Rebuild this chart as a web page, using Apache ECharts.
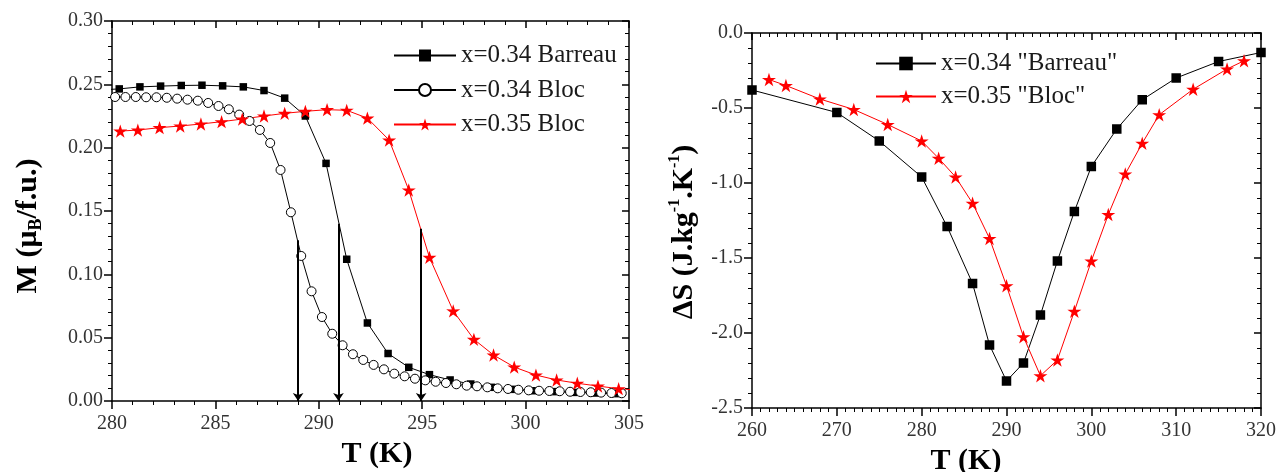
<!DOCTYPE html>
<html>
<head>
<meta charset="utf-8">
<script src="https://cdn.jsdelivr.net/npm/echarts@6/dist/echarts.min.js"></script>
<style>html,body{margin:0;padding:0;background:#fff}#c{width:1279px;height:472px}</style>
</head>
<body>
<div id="c"></div>
<script>
// ---- Left panel: magnetization M (muB/f.u.) vs T (K)
const leftBarreauT = [279.35, 280.35, 281.35, 282.35, 283.35, 284.35, 285.35, 286.35, 287.35, 288.35, 289.35, 290.35, 291.35, 292.35, 293.35, 294.35, 295.35, 296.35, 297.35, 298.35, 299.35, 300.35, 301.35, 302.35, 303.35, 304.35];
const leftBarreauM = [0.2455, 0.2464, 0.2480, 0.2486, 0.2491, 0.2493, 0.2488, 0.2480, 0.2451, 0.2391, 0.2250, 0.1876, 0.1119, 0.0616, 0.0375, 0.0266, 0.0208, 0.0166, 0.0134, 0.0108, 0.0092, 0.0081, 0.0074, 0.0068, 0.0063, 0.0058];

const leftBloc34T = [280.15, 280.65, 281.15, 281.65, 282.15, 282.65, 283.15, 283.65, 284.15, 284.65, 285.15, 285.65, 286.15, 286.65, 287.15, 287.65, 288.15, 288.65, 289.15, 289.65, 290.15, 290.65, 291.15, 291.65, 292.15, 292.65, 293.15, 293.65, 294.15, 294.65, 295.15, 295.65, 296.15, 296.65, 297.15, 297.65, 298.15, 298.65, 299.15, 299.65, 300.15, 300.65, 301.15, 301.65, 302.15, 302.65, 303.15, 303.65, 304.15, 304.65];
const leftBloc34M = [0.2400, 0.2400, 0.2400, 0.2398, 0.2398, 0.2394, 0.2387, 0.2379, 0.2371, 0.2353, 0.2329, 0.2303, 0.2261, 0.2211, 0.2140, 0.2037, 0.1824, 0.1490, 0.1145, 0.0866, 0.0663, 0.0531, 0.0440, 0.0369, 0.0324, 0.0285, 0.0250, 0.0216, 0.0195, 0.0176, 0.0163, 0.0152, 0.0142, 0.0132, 0.0121, 0.0116, 0.0108, 0.0100, 0.0095, 0.0089, 0.0084, 0.0081, 0.0079, 0.0077, 0.0073, 0.0071, 0.0069, 0.0066, 0.0063, 0.0061];

const leftBloc35T = [280.4, 281.25, 282.3, 283.3, 284.3, 285.3, 286.3, 287.35, 288.35, 289.35, 290.4, 291.35, 292.35, 293.4, 294.35, 295.35, 296.5, 297.5, 298.45, 299.45, 300.5, 301.5, 302.5, 303.5, 304.5, 305.5];
const leftBloc35M = [0.2131, 0.2139, 0.2158, 0.2171, 0.2187, 0.2205, 0.2226, 0.2250, 0.2271, 0.2287, 0.2300, 0.2295, 0.2233, 0.2060, 0.1666, 0.1134, 0.0711, 0.0487, 0.0363, 0.0268, 0.0205, 0.0166, 0.0140, 0.0118, 0.0097, 0.0085];

// vertical arrows marking transition temperatures
const arrowT = [289.0, 290.95, 294.95];
const arrowTop = [0.127, 0.140, 0.136];

// ---- Right panel: entropy change ΔS vs T (K)
const rightBarreauT = [260, 270, 275, 280, 283, 286, 288, 290, 292, 294, 296, 298, 300, 303, 306, 310, 315, 320];
const rightBarreauS = [-0.38, -0.53, -0.72, -0.96, -1.29, -1.67, -2.08, -2.32, -2.20, -1.88, -1.52, -1.19, -0.89, -0.64, -0.445, -0.30, -0.19, -0.13];

const rightBlocT = [262, 264, 268, 272, 276, 280, 282, 284, 286, 288, 290, 292, 294, 296, 298, 300, 302, 304, 306, 308, 312, 316, 318];
const rightBlocS = [-0.31, -0.35, -0.44, -0.51, -0.61, -0.72, -0.835, -0.96, -1.135, -1.37, -1.685, -2.025, -2.285, -2.18, -1.855, -1.52, -1.21, -0.94, -0.735, -0.545, -0.375, -0.24, -0.185];

const leftNames = ['x=0.34 Barreau', 'x=0.34 Bloc', 'x=0.35 Bloc'];
const rightNames = ['x=0.34 "Barreau"', 'x=0.35 "Bloc"'];

const zip = (a, b) => a.map((v, i) => [v, b[i]]);
const FONT = 'Liberation Serif';
const STAR = 'path://M50,0 L61.17,34.63 L97.55,34.55 L68.07,55.87 L79.39,90.45 L50,69 L20.61,90.45 L31.93,55.87 L2.45,34.55 L38.83,34.63 Z';

function mainAxis(grid, pos, min, max, interval, minorSplit, fmt, isX) {
  return {
    type: 'value', gridIndex: grid, position: pos, min: min, max: max, interval: interval,
    axisLine: { show: true, onZero: false, lineStyle: { color: '#000', width: 1.5 } },
    axisTick: { show: true, inside: false, length: 8, lineStyle: { color: '#000', width: 1.5 } },
    minorTick: { show: true, splitNumber: minorSplit, length: 4, lineStyle: { color: '#000', width: 1 } },
    splitLine: { show: false },
    axisLabel: { show: true, fontFamily: FONT, fontSize: 20, color: '#333', margin: isX ? 13 : 9, formatter: fmt }
  };
}
function mirrorAxis(grid, pos, min, max, interval, minorSplit) {
  return {
    type: 'value', gridIndex: grid, position: pos, min: min, max: max, interval: interval,
    axisLine: { show: true, onZero: false, lineStyle: { color: '#000', width: 1.5 } },
    axisTick: { show: true, inside: true, length: 7, lineStyle: { color: '#000', width: 1.5 } },
    minorTick: { show: true, splitNumber: minorSplit, length: 4, lineStyle: { color: '#000', width: 1 } },
    splitLine: { show: false },
    axisLabel: { show: false }
  };
}

const titleRich = {
  m: { fontFamily: FONT, fontWeight: 'bold', fontSize: 30, lineHeight: 34, verticalAlign: 'middle', fill: '#000' },
  sub: { fontFamily: FONT, fontWeight: 'bold', fontSize: 18, lineHeight: 18, padding: [16, 0, 0, 0], verticalAlign: 'bottom', fill: '#000' },
  sup: { fontFamily: FONT, fontWeight: 'bold', fontSize: 16, lineHeight: 16, padding: [0, 0, 18, 0], verticalAlign: 'top', fill: '#000' }
};

const chart = echarts.init(document.getElementById('c'), null, { renderer: 'canvas' });
chart.setOption({
  animation: false,
  backgroundColor: '#fff',
  grid: [
    { left: 112, top: 21, width: 517, height: 380 },
    { left: 752, top: 33, width: 511, height: 375 }
  ],
  xAxis: [
    mainAxis(0, 'bottom', 280, 305, 5, 5, v => String(v), true),
    mirrorAxis(0, 'top', 280, 305, 5, 5),
    mainAxis(1, 'bottom', 260, 320, 10, 10, v => String(v), true),
    mirrorAxis(1, 'top', 260, 320, 10, 10)
  ],
  yAxis: [
    mainAxis(0, 'left', 0, 0.3, 0.05, 5, v => v.toFixed(2), false),
    mirrorAxis(0, 'right', 0, 0.3, 0.05, 5),
    mainAxis(1, 'left', -2.5, 0, 0.5, 5, v => (Math.abs(v) < 1e-9 ? 0 : v).toFixed(1), false),
    mirrorAxis(1, 'right', -2.5, 0, 0.5, 5)
  ],
  legend: [
    {
      data: leftNames, orient: 'vertical', left: 388, top: 38,
      itemWidth: 62, itemHeight: 15, itemGap: 9.5,
      textStyle: { fontFamily: FONT, fontSize: 25, lineHeight: 25, color: '#1a1a1a' },
      selectedMode: false
    },
    {
      data: rightNames, orient: 'vertical', left: 870, top: 46,
      itemWidth: 60, itemHeight: 17, itemGap: 8,
      textStyle: { fontFamily: FONT, fontSize: 25, lineHeight: 25, color: '#1a1a1a' },
      selectedMode: false
    }
  ],
  graphic: [
    { type: 'text', x: 377, y: 454, silent: true,
      style: { text: '{m|T (K)}', rich: titleRich, align: 'center', verticalAlign: 'middle' } },
    { type: 'text', x: 28, y: 226, rotation: Math.PI / 2, silent: true,
      style: { text: '{m|M (μ}{sub|B}{m|/f.u.)}', rich: titleRich, align: 'center', verticalAlign: 'middle' } },
    { type: 'text', x: 966, y: 461, silent: true,
      style: { text: '{m|T (K)}', rich: titleRich, align: 'center', verticalAlign: 'middle' } },
    { type: 'text', x: 684, y: 232, rotation: Math.PI / 2, silent: true,
      style: { text: '{m|ΔS (J.kg}{sup|-1}{m|.K}{sup|-1}{m|)}', rich: titleRich, align: 'center', verticalAlign: 'middle' } }
  ],
  series: [
    {
      name: leftNames[0], type: 'line', xAxisIndex: 0, yAxisIndex: 0,
      data: zip(leftBarreauT, leftBarreauM),
      symbol: 'rect', symbolSize: 7.5,
      itemStyle: { color: '#000' }, lineStyle: { color: '#000', width: 1 },
      emphasis: { disabled: true },
      markLine: {
        silent: true, symbol: ['none', 'arrow'], symbolSize: 8,
        lineStyle: { color: '#000', width: 2, type: 'solid' },
        label: { show: false }, emphasis: { disabled: true },
        data: arrowT.map((t, i) => [{ coord: [t, arrowTop[i]] }, { coord: [t, 0] }])
      }
    },
    {
      name: leftNames[1], type: 'line', xAxisIndex: 0, yAxisIndex: 0,
      data: zip(leftBloc34T, leftBloc34M),
      symbol: 'circle', symbolSize: 9,
      itemStyle: { color: '#fff', borderColor: '#000', borderWidth: 1 }, lineStyle: { color: '#000', width: 1 },
      emphasis: { disabled: true }
    },
    {
      name: leftNames[2], type: 'line', xAxisIndex: 0, yAxisIndex: 0,
      data: zip(leftBloc35T, leftBloc35M),
      symbol: STAR, symbolSize: 14, symbolKeepAspect: true,
      itemStyle: { color: '#ff0000' }, lineStyle: { color: '#ff0000', width: 1 },
      emphasis: { disabled: true }
    },
    {
      name: rightNames[0], type: 'line', xAxisIndex: 2, yAxisIndex: 2,
      data: zip(rightBarreauT, rightBarreauS),
      symbol: 'rect', symbolSize: 9.5,
      itemStyle: { color: '#000' }, lineStyle: { color: '#000', width: 1 },
      emphasis: { disabled: true }
    },
    {
      name: rightNames[1], type: 'line', xAxisIndex: 2, yAxisIndex: 2,
      data: zip(rightBlocT, rightBlocS),
      symbol: STAR, symbolSize: 14, symbolKeepAspect: true,
      itemStyle: { color: '#ff0000' }, lineStyle: { color: '#ff0000', width: 1 },
      emphasis: { disabled: true }
    }
  ]
});
</script>
</body>
</html>
